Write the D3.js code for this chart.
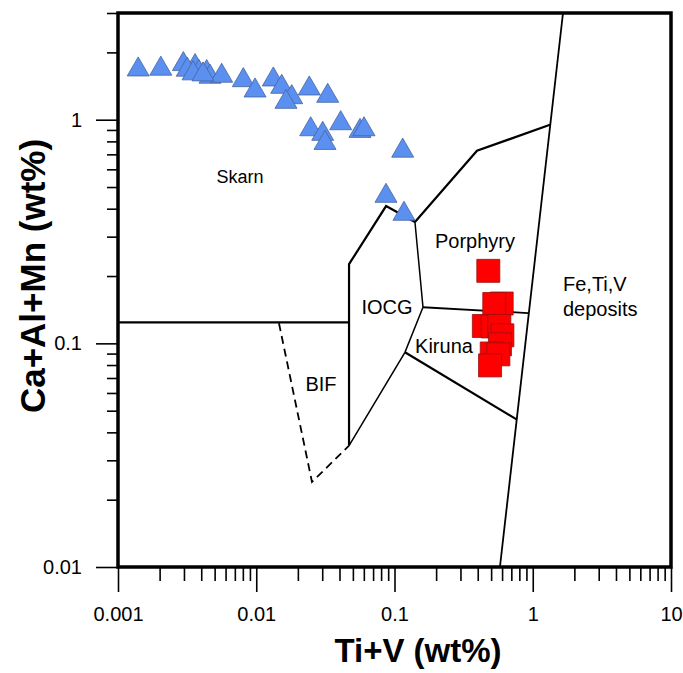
<!DOCTYPE html>
<html>
<head>
<meta charset="utf-8">
<script src="https://cdn.jsdelivr.net/npm/d3@7/dist/d3.min.js"></script>
<style>
  html, body { margin: 0; padding: 0; background: #fff; }
  svg { display: block; }
  text { font-family: "Liberation Sans", Arial, sans-serif; fill: #000; }
</style>
</head>
<body>
<svg id="chart" width="683" height="673"></svg>
<script>
// ---------- data ----------
const xMajorTicks = [0.001, 0.01, 0.1, 1, 10];
const xTickLabels = ["0.001", "0.01", "0.1", "1", "10"];
const yMajorTicks = [0.01, 0.1, 1];
const yTickLabels = ["0.01", "0.1", "1"];

// Skarn samples (Ti+V, Ca+Al+Mn)
const skarnX = [0.00140, 0.00204, 0.00297, 0.00361, 0.00317, 0.00385, 0.00438, 0.00463, 0.00562,
                0.00349, 0.00412, 0.00806, 0.00980, 0.01329, 0.01528, 0.01805, 0.01641, 0.02419,
                0.03287, 0.02476, 0.03025, 0.03143, 0.04081, 0.05628, 0.06018, 0.1146, 0.0868, 0.1171];
const skarnY = [1.675, 1.688, 1.770, 1.734, 1.671, 1.630, 1.630, 1.554, 1.570,
                1.609, 1.592, 1.500, 1.349, 1.511, 1.401, 1.259, 1.200, 1.377,
                1.277, 0.905, 0.863, 0.786, 0.963, 0.890, 0.905, 0.726, 0.456, 0.379];

// Ore samples
const oreX = [0.477, 0.596, 0.527, 0.443, 0.513, 0.573, 0.603, 0.579, 0.505, 0.564, 0.491];
const oreY = [0.211, 0.1507, 0.150, 0.1196, 0.119, 0.1196, 0.1086, 0.099, 0.0901, 0.0893, 0.0797];

// Field boundaries [Ti+V, Ca+Al+Mn]
const skarnBase      = [[0.001, 0.124], [0.0469, 0.124]];
const iocgLeft       = [[0.0469, 0.0349], [0.0469, 0.226], [0.0869, 0.411], [0.1406, 0.349]];
const porphyryTop    = [[0.1406, 0.349], [0.395, 0.726], [1.333, 0.95]];
const porphyryLeft   = [[0.1406, 0.349], [0.1607, 0.145]];
const porphyryBottom = [[0.1607, 0.145], [0.925, 0.1366]];
const iocgRight      = [[0.1607, 0.145], [0.119, 0.0912], [0.0469, 0.0349]];
const kirunaBottom   = [[0.119, 0.0912], [0.769, 0.0456]];
const bifBoundary    = [[0.0146, 0.123], [0.0253, 0.024], [0.0469, 0.0349]];
const fetivBoundary  = [[0.579, 0.01], [1.655, 3.0]];

const fieldLabels = ["Skarn", "Porphyry", "IOCG", "Kiruna", "BIF", "Fe,Ti,V", "deposits"];
const fieldLabelX = [0.00763, 0.382, 0.0883, 0.228, 0.0294, 1.655, 1.655];
const fieldLabelY = [0.5217, 0.267, 0.1353, 0.0906, 0.0612, 0.1715, 0.1326];

// ---------- chart ----------
const svg = d3.select("#chart");
const x = d3.scaleLog().domain([0.001, 10]).range([118, 671]);
const y = d3.scaleLog().domain([0.01, 3]).range([567, 13]);

const line = d3.line().x(d => x(d[0])).y(d => y(d[1]));

const g = svg.append("g");

// boundaries
const thick = 2.2, thin = 1.5;
[[skarnBase, thick], [iocgLeft, thick], [porphyryTop, thick], [porphyryLeft, thin],
 [porphyryBottom, thin + 0.3], [iocgRight, thin], [kirunaBottom, thick], [fetivBoundary, thin + 0.3]]
 .forEach(([pts, w]) => {
   g.append("path").attr("d", line(pts)).attr("fill", "none")
    .attr("stroke", "#000").attr("stroke-width", w).attr("stroke-linejoin", "miter");
 });
g.append("path").attr("d", line(bifBoundary)).attr("fill", "none")
  .attr("stroke", "#000").attr("stroke-width", 1.8).attr("stroke-dasharray", "8,5");

// field labels
const labelSizes = [18, 20, 20, 20, 20, 20, 20];
const labelAnchors = ["middle", "middle", "middle", "middle", "middle", "start", "start"];
fieldLabels.forEach((t, i) => {
  g.append("text").attr("x", x(fieldLabelX[i])).attr("y", y(fieldLabelY[i]))
    .attr("text-anchor", labelAnchors[i]).attr("font-size", labelSizes[i]).text(t);
});

// markers
const tri = d3.symbol().type(d3.symbolTriangle).size(210);
g.selectAll("path.skarn").data(skarnX.map((v, i) => [v, skarnY[i]])).join("path")
  .attr("class", "skarn")
  .attr("transform", d => `translate(${x(d[0])},${y(d[1])})`)
  .attr("d", tri)
  .attr("fill", "#5b8ff0").attr("stroke", "#46659e").attr("stroke-width", 0.8);

const sq = d3.symbol().type(d3.symbolSquare).size(529);
g.selectAll("path.ore").data(oreX.map((v, i) => [v, oreY[i]])).join("path")
  .attr("class", "ore")
  .attr("transform", d => `translate(${x(d[0])},${y(d[1])})`)
  .attr("d", sq)
  .attr("fill", "#ff0000").attr("stroke", "#9a1010").attr("stroke-width", 0.8);

// axes
const xMinor = x.ticks().filter(v => !xMajorTicks.some(m => Math.abs(m - v) / m < 1e-6));
const yMinor = y.ticks().filter(v => !yMajorTicks.some(m => Math.abs(m - v) / m < 1e-6));

const xAxisMinor = svg.append("g").attr("transform", "translate(0,567)")
  .call(d3.axisBottom(x).tickValues(xMinor).tickSize(14).tickFormat(""));
const xAxisMajor = svg.append("g").attr("transform", "translate(0,567)")
  .call(d3.axisBottom(x).tickValues(xMajorTicks).tickSize(25).tickPadding(15)
        .tickFormat((d, i) => xTickLabels[i]));
const yAxisMinor = svg.append("g").attr("transform", "translate(118,0)")
  .call(d3.axisLeft(y).tickValues(yMinor).tickSize(11).tickFormat(""));
const yAxisMajor = svg.append("g").attr("transform", "translate(118,0)")
  .call(d3.axisLeft(y).tickValues(yMajorTicks).tickSize(22).tickPadding(14)
        .tickFormat((d, i) => yTickLabels[i]));

[xAxisMinor, xAxisMajor, yAxisMinor, yAxisMajor].forEach(a => {
  a.select(".domain").remove();
  a.selectAll(".tick line").attr("stroke", "#000").attr("stroke-width", 1.6);
  a.selectAll(".tick text").attr("font-size", 20)
    .attr("font-family", '"Liberation Sans", Arial, sans-serif').attr("fill", "#000");
});

// frame
svg.append("rect").attr("x", 118).attr("y", 13).attr("width", 553).attr("height", 554)
  .attr("fill", "none").attr("stroke", "#000").attr("stroke-width", 3.5);

// axis titles
svg.append("text").attr("x", 418).attr("y", 662).attr("text-anchor", "middle")
  .attr("font-size", 33).attr("font-weight", "bold").text("Ti+V (wt%)");
svg.append("text").attr("transform", "translate(45,276) rotate(-90)")
  .attr("text-anchor", "middle").attr("font-size", 35).attr("font-weight", "bold")
  .text("Ca+Al+Mn (wt%)");
</script>
</body>
</html>
